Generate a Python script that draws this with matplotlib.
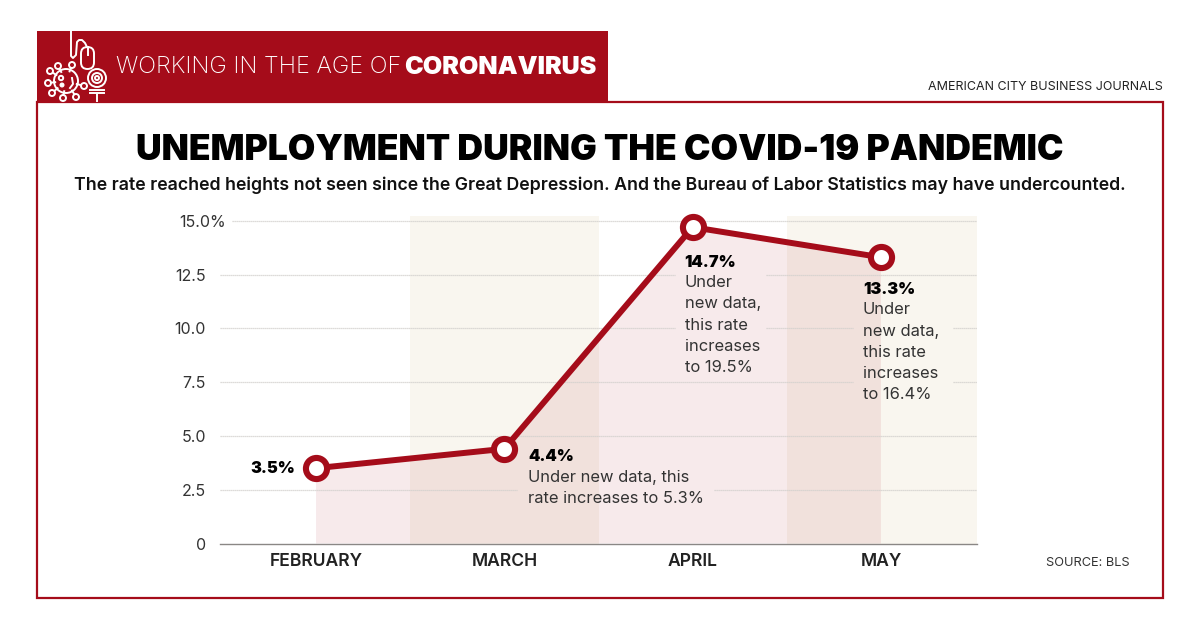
import matplotlib

matplotlib.use("Agg")
import matplotlib.pyplot as plt
from matplotlib.patches import Circle, FancyBboxPatch, Rectangle
from matplotlib.transforms import ScaledTranslation

plt.rcParams["font.family"] = ["Inter", "Lato", "DejaVu Sans"]

RED = "#a50c1a"
BAND = "#f9f6ef"
GRID = "#d2d0cd"

months = ["FEBRUARY", "MARCH", "APRIL", "MAY"]
rates = [3.5, 4.4, 14.7, 13.3]
rate_labels = ["3.5%", "4.4%", "14.7%", "13.3%"]
notes = [
    "",
    "Under new data, this\nrate increases to 5.3%",
    "Under\nnew data,\nthis rate\nincreases\nto 19.5%",
    "Under\nnew data,\nthis rate\nincreases\nto 16.4%",
]
y_ticks = [0, 2.5, 5, 7.5, 10, 12.5, 15]
y_tick_labels = ["0", "2.5", "5.0", "7.5", "10.0", "12.5", "15.0%"]

fig = plt.figure(figsize=(12, 6.3), dpi=100)

# Overlay in pixel coordinates for the page furniture
page = fig.add_axes([0, 0, 1, 1], zorder=0)
page.set_xlim(0, 1200)
page.set_ylim(630, 0)
page.axis("off")


def draw_icon(page):
    white = {"color": "white", "linewidth": 1.4}
    ring = {"edgecolor": "white", "facecolor": "none", "linewidth": 1.4}
    # cable and mouse
    page.plot([71, 71, 73, 76, 77, 79, 82, 85, 87], [31, 56, 58, 55, 42, 40, 40, 43, 47], **white)
    page.add_patch(
        FancyBboxPatch((81, 47), 13, 22, boxstyle="round,pad=0,rounding_size=6.5", **ring)
    )
    page.plot([87.5, 87.5], [47, 55], **white)
    # webcam
    page.add_patch(Circle((97, 78), 9, **ring))
    page.add_patch(Circle((97, 78), 5, **ring))
    page.add_patch(Circle((97, 78), 2, **ring))
    page.plot([90, 104], [90, 90], **white)
    page.plot([90, 104], [93, 93], **white)
    page.plot([97, 97], [93, 101], **white)
    # virus
    page.add_patch(Circle((66, 81), 12, **ring))
    spikes = [(72, 65), (58, 66), (50, 71), (48, 83), (52, 93), (63, 98), (76, 97), (84, 86)]
    for sx, sy in spikes:
        page.plot([66 + (sx - 66) * 0.6, sx], [81 + (sy - 81) * 0.6, sy], **white)
        page.add_patch(Circle((sx, sy), 3, facecolor=RED, edgecolor="white", linewidth=1.4, zorder=3))
    page.add_patch(Circle((61, 78), 2.2, **ring))
    page.add_patch(Circle((62, 85), 1.8, facecolor="white", edgecolor="white"))
    page.plot([70, 73, 72], [88, 84, 78], **white)


page.add_patch(Rectangle((37, 31), 571, 71, facecolor=RED, edgecolor="none"))
page.add_patch(Rectangle((37, 102), 1126, 496, facecolor="none", edgecolor=RED, linewidth=1.6))
draw_icon(page)

page.text(116, 67, "WORKING IN THE AGE OF", color="white", fontsize=16.9, fontweight="light", ha="left", va="center")
page.text(404, 67, "CORONAVIRUS", color="white", fontsize=18.1, fontweight="black", ha="left", va="center")
page.text(1163, 87, "AMERICAN CITY BUSINESS JOURNALS", color="#222222", fontsize=8.97, ha="right", va="center")
page.text(600, 147, "UNEMPLOYMENT DURING THE COVID-19 PANDEMIC", color="black", fontsize=25.6, fontweight="black", ha="center", va="center_baseline")
page.text(600, 185, "The rate reached heights not seen since the Great Depression. And the Bureau of Labor Statistics may have undercounted.",
          color="#111111", fontsize=12.75, fontweight="semibold", ha="center", va="center")
page.text(1130, 563, "SOURCE: BLS", color="#333333", fontsize=9.2, ha="right", va="center")

# Main chart
ax = fig.add_axes([220 / 1200, 1 - 543.5 / 630, 757 / 1200, 327.1 / 630], zorder=1)
ax.patch.set_alpha(0)
ax.set_xlim(-0.51, 3.51)
ax.set_ylim(0, 15.2)

x = list(range(len(months)))

ax.axvspan(0.5, 1.5, facecolor=BAND, edgecolor="none", zorder=1)
ax.axvspan(2.5, 3.51, facecolor=BAND, edgecolor="none", zorder=1)
ax.fill_between(x, rates, 0, facecolor=RED, alpha=0.085, edgecolor="none", zorder=1.5)

# Gridlines stop short of the annotation text
grid_style = {"color": GRID, "linewidth": 0.9, "linestyle": (0, (1, 0.6)), "zorder": 2}
ax.hlines(15, -0.446, 3.51, **grid_style)
ax.hlines(12.5, -0.51, 1.907, **grid_style)
ax.hlines(12.5, 2.39, 3.51, **grid_style)
ax.hlines(10, -0.51, 1.907, **grid_style)
ax.hlines(10, 2.39, 2.852, **grid_style)
ax.hlines(10, 3.383, 3.51, **grid_style)
ax.hlines(7.5, -0.51, 2.852, **grid_style)
ax.hlines(7.5, 3.383, 3.51, **grid_style)
ax.hlines(5, -0.51, 3.51, **grid_style)
ax.hlines(2.5, -0.51, 1.067, **grid_style)
ax.hlines(2.5, 2.114, 3.51, **grid_style)

ax.plot(
    x, rates, color=RED, linewidth=4.3, marker="o", markersize=15.2,
    markerfacecolor="white", markeredgecolor=RED, markeredgewidth=4.4,
    clip_on=False, zorder=4, solid_joinstyle="miter",
)

for side in ["top", "right", "left"]:
    ax.spines[side].set_visible(False)
ax.spines["bottom"].set_color("#8a8785")
ax.spines["bottom"].set_linewidth(1.0)
ax.spines["bottom"].set_zorder(3)

ax.set_xticks(x, months)
ax.tick_params(axis="x", length=0, pad=7, labelsize=12.6, labelcolor="#222222")
for label in ax.get_xticklabels():
    label.set_fontweight("semibold")

ax.set_yticks(y_ticks, y_tick_labels)
ax.tick_params(axis="y", length=0, pad=10, labelsize=11.5, labelcolor="#333333")
# the percent sign hangs past the other labels
top_label = ax.get_yticklabels()[-1]
top_label.set_transform(top_label.get_transform() + ScaledTranslation(0.2, 0, fig.dpi_scale_trans))

# value label offsets from each point, in pixels
label_offsets = [(-21, 0), (24, -8), (-8, -35), (-18, -32)]
label_aligns = ["right", "left", "left", "left"]
for i, rate in enumerate(rates):
    dx, dy = label_offsets[i]
    ax.annotate(
        rate_labels[i], (x[i], rate), xytext=(dx, dy), textcoords="offset pixels",
        ha=label_aligns[i], va="center", fontsize=11.8, fontweight="black", color="black", zorder=5,
    )
    if notes[i]:
        ax.annotate(
            notes[i], (x[i], rate), xytext=(dx, dy - 13), textcoords="offset pixels",
            ha="left", va="top", fontsize=11.9, color="#333333", linespacing=1.52, zorder=5,
        )

fig.savefig("out.png", dpi=100)
